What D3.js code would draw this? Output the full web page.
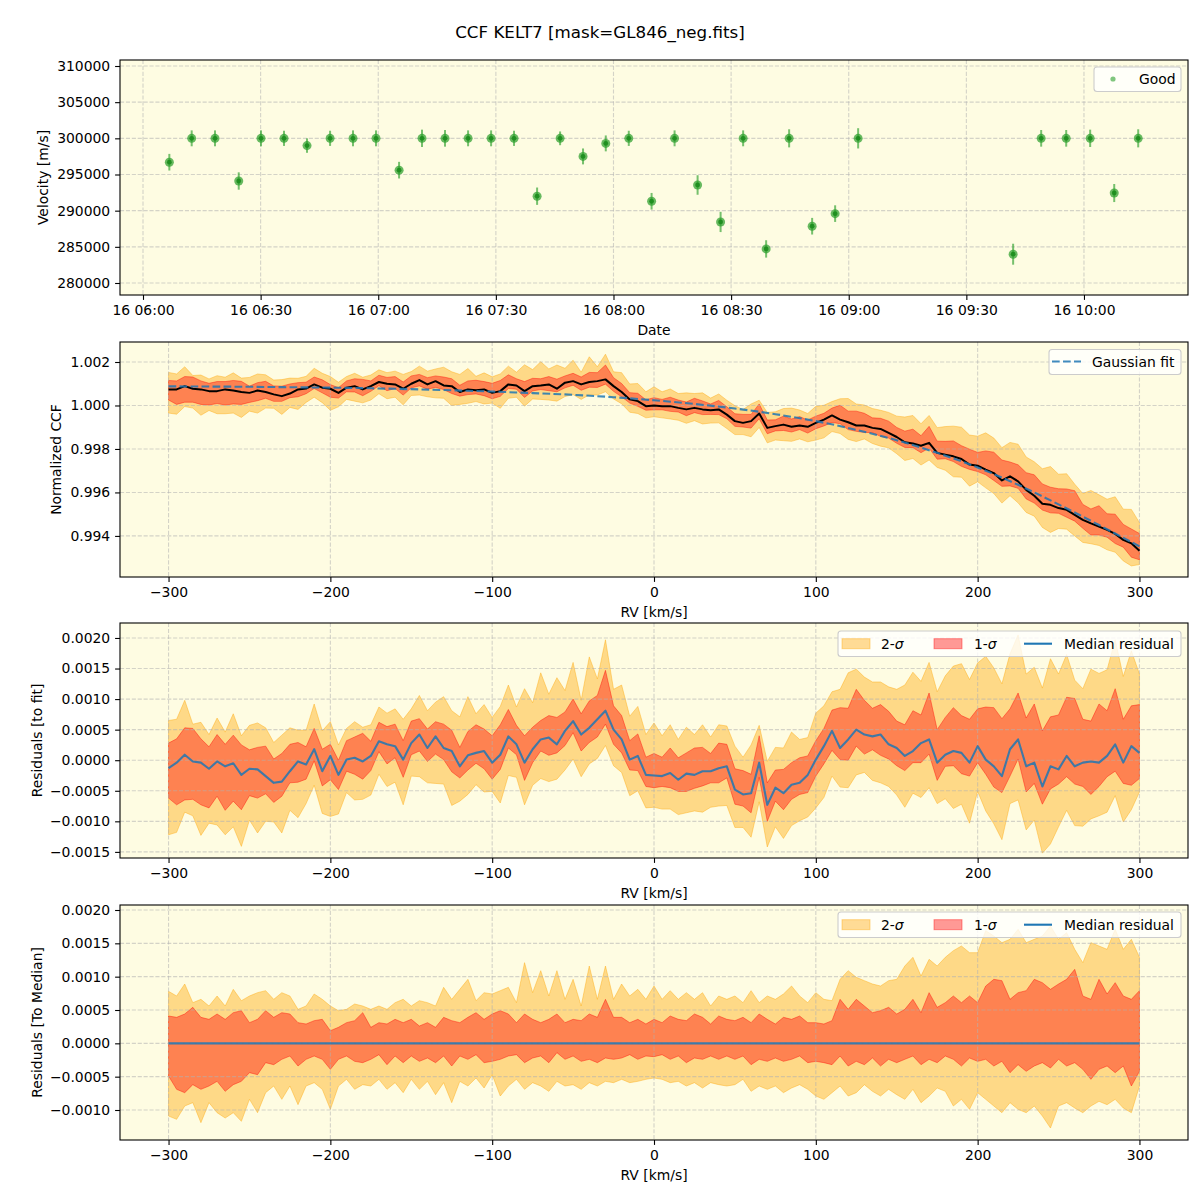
<!DOCTYPE html>
<html>
<head>
<meta charset="utf-8">
<script src="https://cdn.jsdelivr.net/npm/d3@7"></script>
<style>
  body { margin: 0; background: #fff; }
  text { font-family: "DejaVu Sans", sans-serif; }
</style>
</head>
<body>
<svg id="fig" width="1200" height="1200"></svg>
<script>
// ---------------- data ----------------
// panel 1: RV time series (UTC, day 16)
const obsTimes = ["06:06:43", "06:12:25", "06:18:22", "06:24:25", "06:30:06", "06:35:58", "06:41:50",
  "06:47:43", "06:53:34", "06:59:26", "07:05:19", "07:11:10", "07:17:02", "07:22:55", "07:28:47",
  "07:34:38", "07:40:31", "07:46:23", "07:52:14", "07:58:02", "08:03:54", "08:09:43", "08:15:35",
  "08:21:27", "08:27:19", "08:33:04", "08:38:56", "08:44:48", "08:50:40", "08:56:32", "09:02:24",
  "09:41:56", "09:49:05", "09:55:28", "10:01:35", "10:07:43", "10:13:50"];
const obsVel = [296700, 300000, 300000, 294100, 300000, 300000, 299000,
  300000, 300000, 300000, 295600, 300000, 300000, 300000, 300000,
  300000, 292000, 300000, 297500, 299300, 300000, 291300, 300000,
  293550, 288440, 300000, 284710, 300000, 287850, 289590, 300000,
  283980, 300000, 300000, 300000, 292440, 300000];
const obsErr = [1150, 1100, 1100, 1200, 1100, 1050, 1000,
  1050, 1100, 1100, 1150, 1200, 1150, 1100, 1100,
  1050, 1200, 950, 1100, 1100, 1050, 1150, 1100,
  1350, 1400, 1100, 1200, 1250, 1150, 1150, 1400,
  1450, 1150, 1150, 1200, 1250, 1250];
const dateTicks = ["06:00", "06:30", "07:00", "07:30", "08:00", "08:30", "09:00", "09:30", "10:00"];
const dateLimits = ["05:54:08", "10:26:32"];

// RV grid of the CCF, km/s
const rv = d3.range(-300, 301, 5);

// panel 2: median normalized CCF
const ccfMedian = [
  1.00074, 1.00074, 1.00089, 1.00077, 1.00074, 1.00066, 1.00066, 1.00074, 1.00069, 1.00062,
  1.00058, 1.00069, 1.00062, 1.00051, 1.00043, 1.00055, 1.00074, 1.00078, 1.00097, 1.00082,
  1.00077, 1.00058, 1.00082, 1.00089, 1.00074, 1.00089, 1.00108, 1.00100, 1.00097, 1.00077,
  1.00100, 1.00117, 1.00097, 1.00112, 1.00092, 1.00089, 1.00062, 1.00074, 1.00070, 1.00074,
  1.00058, 1.00066, 1.00097, 1.00092, 1.00066, 1.00089, 1.00092, 1.00097, 1.00077, 1.00105,
  1.00112, 1.00097, 1.00108, 1.00112, 1.00120, 1.00089, 1.00062, 1.00028, 1.00020, 0.99997,
  1.00000, 0.99997, 0.99997, 0.99989, 0.99982, 0.99989, 0.99982, 0.99978, 0.99982, 0.99958,
  0.99928, 0.99920, 0.99928, 0.99963, 0.99897, 0.99905, 0.99912, 0.99902, 0.99908, 0.99902,
  0.99920, 0.99935, 0.99954, 0.99935, 0.99923, 0.99908, 0.99908, 0.99897, 0.99892, 0.99874,
  0.99855, 0.99831, 0.99825, 0.99815, 0.99828, 0.99782, 0.99774, 0.99766, 0.99754, 0.99728,
  0.99723, 0.99705, 0.99689, 0.99655, 0.99674, 0.99651, 0.99612, 0.99585, 0.99548, 0.99543,
  0.99528, 0.99520, 0.99497, 0.99474, 0.99458, 0.99443, 0.99428, 0.99409, 0.99382, 0.99366,
  0.99332];

// gaussian fit, read every 25 km/s
const fitRV = [-300, -275, -250, -225, -200, -175, -150, -125, -100, -75, -50, -25, 0,
  25, 50, 75, 100, 125, 150, 175, 200, 225, 250, 275, 300];
const fitCCF = [1.00088, 1.00087, 1.00086, 1.00084, 1.00082, 1.00079, 1.00075, 1.00070, 1.00064,
  1.00057, 1.00049, 1.00038, 1.00024, 1.00007, 0.99986, 0.99960, 0.99928, 0.99888, 0.99840,
  0.99782, 0.99715, 0.99635, 0.99545, 0.99450, 0.99352];

// panel 3: median residual to fit, units of 1e-4
const resMedian = [
  -1.3, -0.4, 0.9, -0.2, -0.4, -1.4, -0.2, -1.0, -0.5, -2.4,
  -1.4, -1.5, -2.6, -3.7, -3.5, -1.8, -0.2, -0.7, 1.8, -1.8,
  0.7, -2.4, 0.1, 0.4, -0.2, 0.7, 3.1, 2.6, 2.3, 0.1,
  2.8, 4.2, 2.0, 3.9, 2.0, 1.5, -1.0, 0.8, 1.2, 1.5,
  -0.4, 0.9, 3.9, 2.6, -0.4, 1.8, 3.4, 3.7, 2.6, 4.8,
  6.4, 4.2, 5.3, 6.7, 8.1, 5.0, 3.4, 0.1, 0.7, -2.4,
  -2.5, -2.6, -2.1, -3.2, -2.2, -2.4, -1.8, -1.8, -1.3, -1.0,
  -4.8, -5.6, -5.4, -0.4, -7.3, -4.5, -5.4, -4.0, -3.7, -2.4,
  0.1, 2.3, 4.8, 2.0, 3.4, 5.0, 4.2, 3.9, 4.2, 2.6,
  2.0, 0.7, 1.5, 2.8, 3.4, -0.4, 0.9, 1.5, 1.2, -0.4,
  2.3, 0.1, -1.0, -2.6, 1.8, 3.4, -1.0, -0.4, -4.3, -1.0,
  -1.5, 0.7, -1.0, -0.4, -0.2, -0.4, 0.7, 2.6, -0.4, 2.3,
  1.2];

// panel 4: spread around the median, units of 1e-4
const sig2Hi = [
  7.8, 7.1, 8.9, 6.1, 6.6, 5.6, 7.1, 5.6, 8.1, 6.4,
  7.1, 7.6, 7.9, 6.6, 7.6, 7.1, 5.1, 5.6, 7.4, 6.6,
  5.6, 4.9, 5.1, 5.9, 5.6, 5.1, 5.6, 5.1, 6.1, 6.6,
  5.6, 6.4, 6.1, 5.6, 8.4, 6.6, 8.1, 9.6, 6.4, 7.6,
  7.4, 7.9, 8.4, 6.1, 12.1, 7.6, 10.9, 7.1, 10.9, 6.6,
  9.6, 5.6, 11.6, 6.6, 11.6, 6.6, 8.9, 7.1, 8.1, 6.6,
  8.6, 6.6, 7.9, 6.6, 7.6, 6.6, 7.6, 5.6, 7.1, 6.6,
  7.1, 6.1, 7.9, 6.1, 7.1, 6.6, 7.4, 8.6, 7.1, 6.1,
  7.6, 6.6, 6.4, 9.6, 10.9, 9.9, 9.4, 8.9, 8.6, 9.4,
  9.6, 11.6, 12.9, 10.1, 12.6, 11.6, 12.9, 13.9, 14.6, 13.6,
  13.6, 16.9, 16.1, 15.1, 15.6, 17.1, 15.1, 15.6, 16.1, 17.6,
  15.6, 16.6, 14.1, 12.1, 15.1, 14.6, 14.1, 17.1, 14.1, 15.6,
  12.9];
const sig1Hi = [
  4.1, 3.9, 4.4, 5.4, 3.9, 3.6, 4.4, 3.6, 4.6, 4.9,
  3.1, 3.6, 4.9, 3.9, 4.6, 4.4, 3.1, 2.9, 3.4, 3.6,
  1.9, 2.4, 3.1, 3.4, 4.6, 2.4, 3.1, 2.9, 3.6, 3.1,
  3.6, 2.6, 3.1, 2.4, 3.9, 3.4, 3.1, 3.9, 4.6, 3.6,
  4.4, 4.9, 4.4, 3.1, 4.4, 3.6, 3.1, 3.6, 4.4, 3.1,
  3.6, 3.4, 4.4, 3.9, 6.6, 3.9, 3.9, 3.1, 3.6, 2.9,
  3.6, 3.1, 4.1, 3.6, 3.4, 4.4, 3.9, 2.9, 4.1, 3.6,
  3.4, 3.9, 3.1, 4.4, 3.6, 2.9, 3.9, 3.6, 4.1, 3.1,
  3.1, 2.9, 3.4, 6.6, 5.1, 6.6, 5.6, 4.6, 4.9, 5.4,
  4.4, 5.1, 6.6, 4.6, 7.6, 5.4, 6.1, 7.1, 6.1, 7.1,
  6.1, 8.6, 9.6, 9.4, 6.6, 7.6, 7.9, 9.6, 9.1, 8.1,
  8.9, 9.6, 11.1, 7.1, 6.6, 9.6, 7.4, 9.1, 7.1, 6.6,
  7.9];
const sig1Lo = [
  -4.9, -6.9, -7.4, -6.2, -6.9, -6.4, -5.7, -7.2, -6.2, -5.7,
  -4.4, -4.7, -2.9, -3.2, -2.4, -1.9, -3.4, -2.4, -1.9, -2.4,
  -3.9, -2.4, -1.9, -2.7, -2.9, -2.4, -1.7, -3.2, -1.9, -2.9,
  -1.9, -2.7, -2.2, -2.9, -1.9, -3.4, -1.9, -2.4, -1.7, -2.9,
  -2.7, -2.4, -1.9, -1.7, -2.9, -2.2, -1.9, -2.9, -1.4, -2.4,
  -1.9, -2.7, -2.4, -2.9, -2.2, -2.4, -2.2, -1.7, -2.4, -1.9,
  -2.0, -1.7, -2.4, -1.9, -2.9, -2.2, -2.4, -1.9, -2.4, -1.9,
  -2.4, -1.9, -3.2, -2.4, -2.7, -2.2, -2.7, -2.4, -1.9, -2.9,
  -2.7, -2.9, -3.2, -1.9, -3.4, -2.7, -3.2, -2.2, -3.4, -2.4,
  -2.9, -2.4, -1.9, -3.2, -2.4, -2.9, -1.9, -2.4, -3.4, -2.2,
  -2.7, -2.4, -3.4, -2.7, -4.4, -3.2, -4.2, -3.4, -2.9, -3.7,
  -2.4, -3.4, -2.9, -3.9, -5.4, -3.9, -3.4, -4.4, -3.4, -6.4,
  -4.2];
const sig2Lo = [
  -10.9, -11.4, -9.4, -8.9, -11.9, -8.9, -10.4, -11.2, -10.4, -11.7,
  -8.4, -10.4, -7.4, -6.4, -8.4, -6.4, -9.2, -6.4, -5.9, -6.9,
  -9.9, -6.4, -5.4, -6.9, -6.2, -6.4, -5.4, -6.9, -5.9, -7.4,
  -5.4, -6.9, -5.7, -7.7, -5.9, -8.9, -5.7, -6.4, -5.2, -6.7,
  -4.7, -7.9, -6.4, -5.4, -6.9, -5.9, -6.4, -7.2, -5.7, -6.4,
  -6.2, -6.9, -5.9, -6.4, -5.7, -5.9, -5.4, -5.9, -5.7, -5.4,
  -5.2, -5.4, -5.9, -5.7, -6.4, -5.9, -6.7, -5.9, -6.2, -6.4,
  -6.2, -5.4, -7.2, -6.4, -6.9, -6.4, -7.4, -6.7, -6.2, -6.9,
  -7.9, -8.4, -7.4, -6.4, -7.9, -7.4, -6.2, -7.2, -7.9, -6.9,
  -7.7, -8.4, -6.9, -8.9, -7.9, -6.7, -7.2, -9.4, -8.4, -9.9,
  -7.4, -8.4, -9.4, -10.4, -8.9, -9.9, -10.4, -9.4, -10.9, -12.7,
  -9.4, -8.9, -9.7, -10.4, -9.4, -8.7, -9.2, -8.4, -9.7, -10.4,
  -6.4];
const medZeroRV = [-300, 300];
const medZero = [0, 0];

const rvTicks = [-300, -200, -100, 0, 100, 200, 300];
const velTicks = [280000, 285000, 290000, 295000, 300000, 305000, 310000];
const ccfTicks = [0.994, 0.996, 0.998, 1.000, 1.002];
const fitResTicks = [-0.0015, -0.0010, -0.0005, 0, 0.0005, 0.0010, 0.0015, 0.0020];
const medResTicks = [-0.0010, -0.0005, 0, 0.0005, 0.0010, 0.0015, 0.0020];

// ---------------- layout ----------------
const left = 120, right = 1188, panelH = 235;
const tops = [60, 342, 623, 905];
const fs = 13.9, tickLen = 4.9, tickPad = 4.9;
const axBg = "#fefce2";
const orange = "#ffa500", red = "#ff0000", blue = "#1f77b4", green = "#2ca02c";
const E4 = 1e-4;

const svg = d3.select("#fig");
svg.append("rect").attr("width", 1200).attr("height", 1200).attr("fill", "#fff");

svg.append("text")
  .attr("x", 600).attr("y", 38)
  .attr("text-anchor", "middle")
  .attr("font-size", 16.7)
  .text("CCF KELT7 [mask=GL846_neg.fits]");

function makePanel(i) {
  const top = tops[i], bottom = top + panelH;
  const g = svg.append("g");
  g.append("rect")
    .attr("x", left).attr("y", top)
    .attr("width", right - left).attr("height", panelH)
    .attr("fill", axBg);
  svg.append("clipPath").attr("id", "clip" + i)
    .append("rect")
    .attr("x", left).attr("y", top)
    .attr("width", right - left).attr("height", panelH);
  return { g, top, bottom, clip: `url(#clip${i})` };
}

function drawGrid(p, xs, ys, x, y) {
  const gg = p.g.append("g")
    .attr("stroke", "#b0b0b0")
    .attr("stroke-opacity", 0.55)
    .attr("stroke-width", 1.1)
    .attr("stroke-dasharray", "4.1,1.8");
  xs.forEach(v => gg.append("line")
    .attr("x1", x(v)).attr("x2", x(v)).attr("y1", p.top).attr("y2", p.bottom));
  ys.forEach(v => gg.append("line")
    .attr("x1", left).attr("x2", right).attr("y1", y(v)).attr("y2", y(v)));
}

function drawAxes(p, x, y, xTicks, xFmt, yTicks, yFmt, xLabel, yLabel, yLabelX) {
  const styleAxis = a => {
    a.select(".domain").remove();
    a.attr("font-family", "DejaVu Sans").attr("font-size", fs);
    a.selectAll(".tick line").attr("stroke-width", 1.1);
    a.selectAll(".tick text").attr("fill", "#000");
  };
  p.g.append("g")
    .attr("transform", `translate(0,${p.bottom})`)
    .call(d3.axisBottom(x).tickValues(xTicks).tickFormat(xFmt).tickSize(tickLen).tickPadding(tickPad))
    .call(styleAxis);
  p.g.append("g")
    .attr("transform", `translate(${left},0)`)
    .call(d3.axisLeft(y).tickValues(yTicks).tickFormat(yFmt).tickSize(tickLen).tickPadding(tickPad))
    .call(styleAxis);
  p.g.append("rect")
    .attr("x", left).attr("y", p.top)
    .attr("width", right - left).attr("height", panelH)
    .attr("fill", "none").attr("stroke", "#000").attr("stroke-width", 1.1);
  p.g.append("text")
    .attr("x", (left + right) / 2).attr("y", p.bottom + 40)
    .attr("text-anchor", "middle").attr("font-size", fs)
    .text(xLabel);
  p.g.append("text")
    .attr("transform", `translate(${yLabelX},${(p.top + p.bottom) / 2}) rotate(-90)`)
    .attr("text-anchor", "middle").attr("font-size", fs)
    .text(yLabel);
}

function legendBox(g, x0, y0, w, h) {
  g.append("rect")
    .attr("x", x0).attr("y", y0).attr("width", w).attr("height", h)
    .attr("rx", 3).attr("fill", "#fff").attr("fill-opacity", 0.8)
    .attr("stroke", "#cccccc").attr("stroke-width", 1.1);
}

function sigmaLegend(g, y0) {
  legendBox(g, 838, y0, 343, 25.5);
  const cy = y0 + 12.7;
  g.append("rect").attr("x", 842).attr("y", cy - 5).attr("width", 28).attr("height", 10)
    .attr("fill", orange).attr("fill-opacity", 0.4)
    .attr("stroke", orange).attr("stroke-opacity", 0.4);
  const t2 = g.append("text").attr("x", 881).attr("y", cy + 4.9).attr("font-size", fs);
  t2.append("tspan").text("2-");
  t2.append("tspan").attr("font-style", "italic").text("σ");
  g.append("rect").attr("x", 934).attr("y", cy - 5).attr("width", 28).attr("height", 10)
    .attr("fill", red).attr("fill-opacity", 0.4)
    .attr("stroke", red).attr("stroke-opacity", 0.4);
  const t1 = g.append("text").attr("x", 974).attr("y", cy + 4.9).attr("font-size", fs);
  t1.append("tspan").text("1-");
  t1.append("tspan").attr("font-style", "italic").text("σ");
  g.append("line").attr("x1", 1024).attr("x2", 1052).attr("y1", cy).attr("y2", cy)
    .attr("stroke", blue).attr("stroke-width", 2.1);
  g.append("text").attr("x", 1064).attr("y", cy + 4.9).attr("font-size", fs).text("Median residual");
}

// ---------------- panel 1: velocities ----------------
const day = "2020-01-16T";
const parseT = s => new Date(day + (s.length === 5 ? s + ":00" : s) + "Z");
const p1 = makePanel(0);
const xT = d3.scaleUtc().domain(dateLimits.map(parseT)).range([left, right]);
const yV = d3.scaleLinear().domain([278340, 310830]).range([p1.bottom, p1.top]);
const tickDates = dateTicks.map(parseT);
drawGrid(p1, tickDates, velTicks, xT, yV);

const obs = obsTimes.map((t, k) => ({ t: parseT(t), v: obsVel[k], e: obsErr[k] }));
const pts = p1.g.append("g").attr("clip-path", p1.clip);
pts.selectAll("line.err").data(obs).join("line")
  .attr("class", "err")
  .attr("x1", d => xT(d.t)).attr("x2", d => xT(d.t))
  .attr("y1", d => yV(d.v - d.e)).attr("y2", d => yV(d.v + d.e))
  .attr("stroke", green).attr("stroke-opacity", 0.65).attr("stroke-width", 2);
pts.selectAll("circle.outer").data(obs).join("circle")
  .attr("class", "outer")
  .attr("cx", d => xT(d.t)).attr("cy", d => yV(d.v)).attr("r", 4.5)
  .attr("fill", green).attr("fill-opacity", 0.72);
pts.selectAll("circle.inner").data(obs).join("circle")
  .attr("class", "inner")
  .attr("cx", d => xT(d.t)).attr("cy", d => yV(d.v)).attr("r", 2.4)
  .attr("fill", "#1c8c1c").attr("fill-opacity", 0.9);

drawAxes(p1, xT, yV, tickDates, d3.utcFormat("%d %H:%M"), velTicks, d3.format("d"),
  "Date", "Velocity [m/s]", 48);
legendBox(p1.g, 1094, 67, 87, 24.5);
p1.g.append("circle").attr("cx", 1113).attr("cy", 79).attr("r", 2.6)
  .attr("fill", green).attr("fill-opacity", 0.6);
p1.g.append("text").attr("x", 1139).attr("y", 84).attr("font-size", fs).text("Good");

// ---------------- rv panels ----------------
const xR = d3.scaleLinear().domain([-330, 330]).range([left, right]);

function bandData(center) {
  return rv.map((r, k) => ({
    rv: r,
    lo2: center[k] + sig2Lo[k] * E4, hi2: center[k] + sig2Hi[k] * E4,
    lo1: center[k] + sig1Lo[k] * E4, hi1: center[k] + sig1Hi[k] * E4,
    mid: center[k]
  }));
}

function drawBands(p, y, data) {
  const g = p.g.append("g").attr("clip-path", p.clip);
  const a2 = d3.area().x(d => xR(d.rv)).y0(d => y(d.lo2)).y1(d => y(d.hi2));
  const a1 = d3.area().x(d => xR(d.rv)).y0(d => y(d.lo1)).y1(d => y(d.hi1));
  g.append("path").attr("d", a2(data))
    .attr("fill", orange).attr("fill-opacity", 0.4)
    .attr("stroke", orange).attr("stroke-opacity", 0.4).attr("stroke-width", 1);
  g.append("path").attr("d", a1(data))
    .attr("fill", red).attr("fill-opacity", 0.4)
    .attr("stroke", red).attr("stroke-opacity", 0.4).attr("stroke-width", 1);
}

function drawLine(p, y, xs, ys, color, width, dash, opacity) {
  const line = d3.line().x(d => xR(d[0])).y(d => y(d[1]));
  if (dash) line.curve(d3.curveMonotoneX);
  p.g.append("g").attr("clip-path", p.clip)
    .append("path").attr("d", line(xs.map((v, k) => [v, ys[k]])))
    .attr("fill", "none").attr("stroke", color).attr("stroke-width", width)
    .attr("stroke-opacity", opacity || 1)
    .attr("stroke-dasharray", dash || null)
    .attr("stroke-linejoin", "round");
}

// panel 2: CCF
const p2 = makePanel(1);
const y2 = d3.scaleLinear().domain([0.99211, 1.00292]).range([p2.bottom, p2.top]);
drawBands(p2, y2, bandData(ccfMedian));
drawGrid(p2, rvTicks, ccfTicks, xR, y2);
drawLine(p2, y2, rv, ccfMedian, "#000", 2);
drawLine(p2, y2, fitRV, fitCCF, blue, 2.1, "7.7,3.3", 0.85);
drawAxes(p2, xR, y2, rvTicks, d3.format("d"), ccfTicks, d3.format(".3f"),
  "RV [km/s]", "Normalized CCF", 61);
legendBox(p2.g, 1049, 349.5, 132, 25);
p2.g.append("line").attr("x1", 1052).attr("x2", 1081).attr("y1", 361.5).attr("y2", 361.5)
  .attr("stroke", blue).attr("stroke-opacity", 0.85).attr("stroke-width", 2.1)
  .attr("stroke-dasharray", "7.7,3.3");
p2.g.append("text").attr("x", 1092).attr("y", 366.5).attr("font-size", fs).text("Gaussian fit");

// panel 3: residuals to fit
const p3 = makePanel(2);
const y3 = d3.scaleLinear().domain([-0.0016, 0.002245]).range([p3.bottom, p3.top]);
const res = resMedian.map(v => v * E4);
drawBands(p3, y3, bandData(res));
drawGrid(p3, rvTicks, fitResTicks, xR, y3);
drawLine(p3, y3, rv, res, blue, 2.1, null, 0.85);
drawAxes(p3, xR, y3, rvTicks, d3.format("d"), fitResTicks, d3.format(".4f"),
  "RV [km/s]", "Residuals [to fit]", 42);
sigmaLegend(p3.g, 631);

// panel 4: residuals to median
const p4 = makePanel(3);
const y4 = d3.scaleLinear().domain([-0.00145, 0.002075]).range([p4.bottom, p4.top]);
drawBands(p4, y4, bandData(rv.map(() => 0)));
drawGrid(p4, rvTicks, medResTicks, xR, y4);
drawLine(p4, y4, medZeroRV, medZero, blue, 2.1, null, 0.85);
drawAxes(p4, xR, y4, rvTicks, d3.format("d"), medResTicks, d3.format(".4f"),
  "RV [km/s]", "Residuals [To Median]", 42);
sigmaLegend(p4.g, 912);
</script>
</body>
</html>
